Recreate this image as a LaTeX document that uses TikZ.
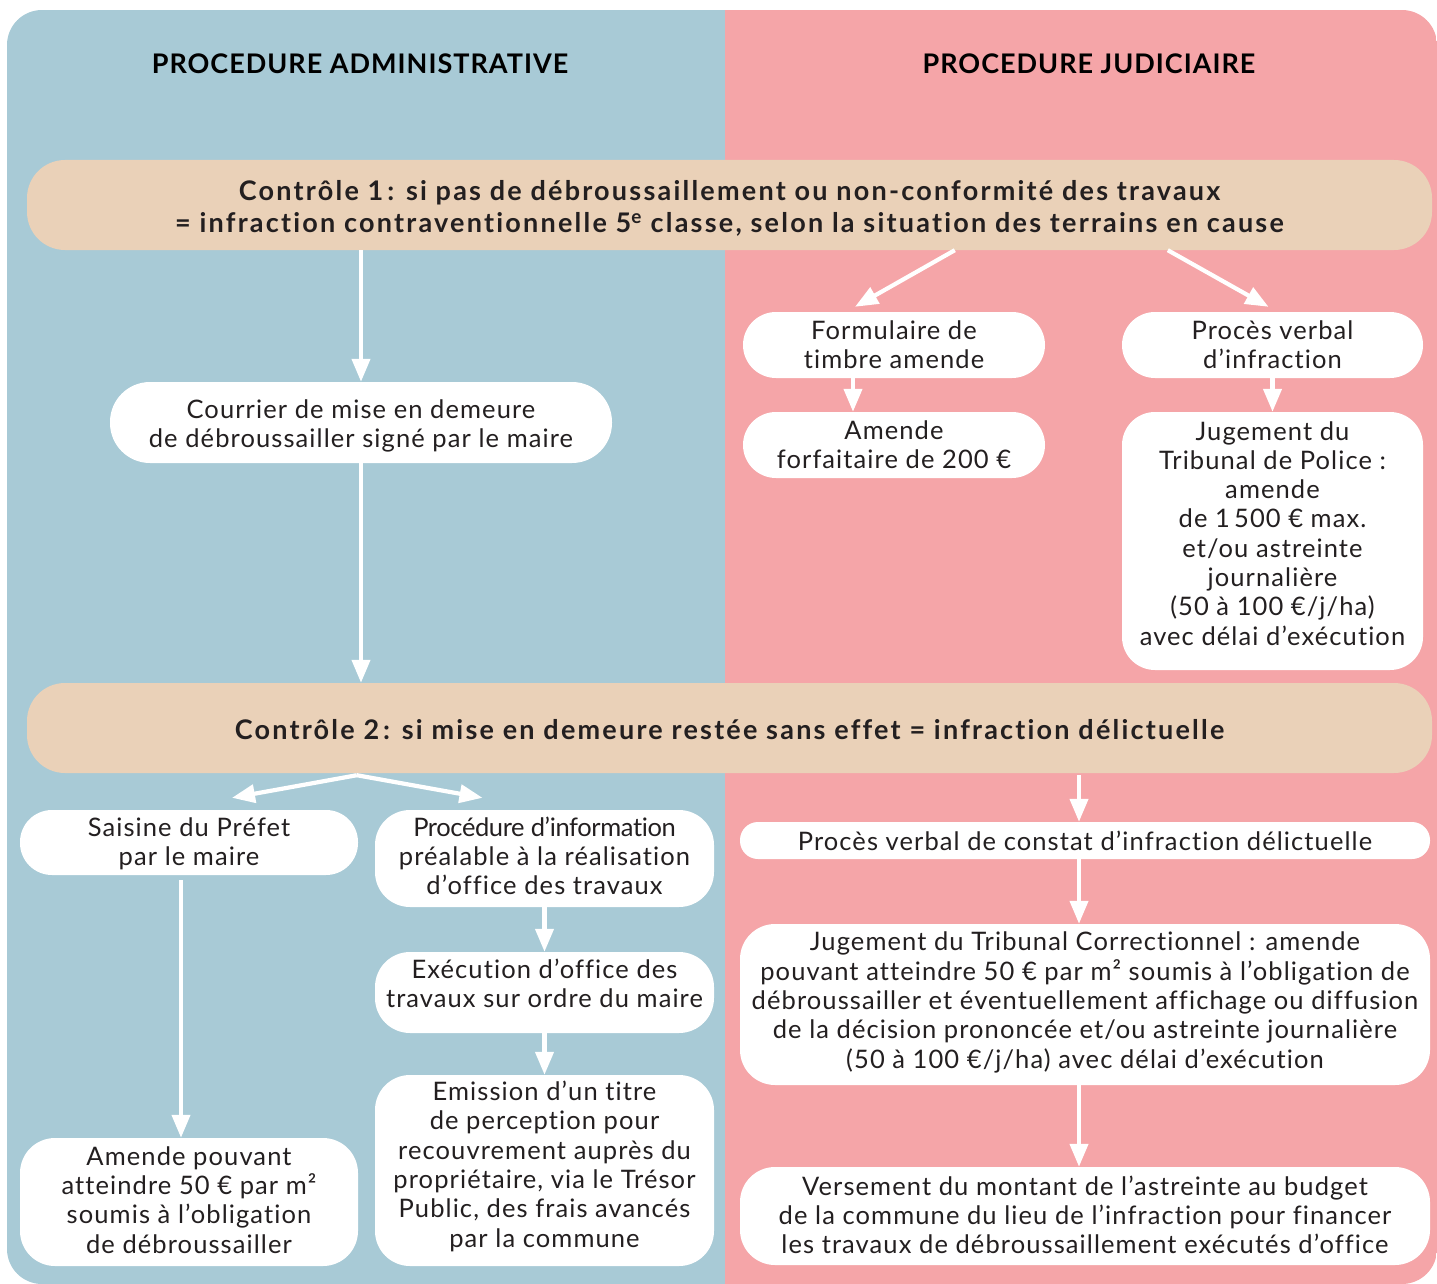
\documentclass[tikz,border=0pt]{standalone}
\usepackage{fontspec}
\setmainfont{Lato}[Ligatures={TeX,NoCommon}]
\usetikzlibrary{arrows.meta,calc}
\definecolor{bluebg}{HTML}{A8CAD6}
\definecolor{pinkbg}{HTML}{F5A5A8}
\definecolor{beige}{HTML}{EAD1B8}
\definecolor{txt}{HTML}{231F20}
\newcommand\mlines[1]{\begin{tabular}[t]{@{}c@{}}#1\end{tabular}}
\begin{document}
\begin{tikzpicture}[x=1pt,y=-1pt,
  wbox/.style={fill=white, rounded corners=#1, inner sep=0pt, text=txt,
    font=\fontsize{25.5}{29.3}\selectfont\addfontfeatures{LetterSpace=4.3}},
  ctrl/.style={fill=beige, rounded corners=38, inner sep=0pt, text=txt,
    font=\bfseries\fontsize{27}{32}\selectfont\addfontfeatures{LetterSpace=8.2}, minimum width=1405, minimum height=90},
  ttl/.style={text=black, font=\bfseries\fontsize{27}{32}\selectfont\addfontfeatures{LetterSpace=3.7}, inner sep=0pt},
  dn/.style={text height=0pt, text depth=#1},
  up/.style={text height=#1, text depth=0pt},
  arr/.style={draw=white, line width=4.2pt, -{Triangle[width=18pt,length=23pt]}}]
\useasboundingbox (0,0) rectangle (1437,1284);
\begin{scope}
  \clip[rounded corners=35] (7,10) rectangle (1437,1284);
  \fill[bluebg] (7,10) rectangle (725,1284);
  \fill[pinkbg] (725,10) rectangle (1437,1284);
\end{scope}

\node[ttl] (tA) at (360,64) {PROCEDURE ADMINISTRATIVE};
\node[ttl] (tJ) at (1089,64) {PROCEDURE JUDICIAIRE};

\node[ctrl, dn=9pt] (c1) at (729.5,205) {\mlines{Contrôle 1\hspace{4pt}: si pas de débroussaillement ou non-conformité des travaux\\= infraction contraventionnelle 5\textsuperscript{e} classe, selon la situation des terrains en cause}};
\node[ctrl, up=23pt] (c2) at (729.5,728) {\mlines{Contrôle 2\hspace{4pt}: si mise en demeure restée sans effet = infraction délictuelle}};

\node[wbox=40, minimum width=502, minimum height=81, dn=9pt] (courrier) at (361,422.5) {\mlines{Courrier de mise en demeure\\de débroussailler signé par le maire}};
\node[wbox=33, minimum width=302, minimum height=66, dn=12pt] (form) at (894,345) {\mlines{Formulaire de\\timbre amende}};
\node[wbox=33, minimum width=302, minimum height=66, dn=11pt] (amende1) at (894,445) {\mlines{Amende\\forfaitaire de 200 €}};
\node[wbox=33, minimum width=301, minimum height=66, dn=12pt] (pv) at (1272.5,345) {\mlines{Procès verbal\\d’infraction}};
\node[wbox=33, minimum width=301, minimum height=258, dn=202pt] (jug1) at (1272.5,541) {\mlines{Jugement du\\Tribunal de Police :\\amende\\de 1\,500 € max.\\et/ou astreinte\\journalière\\(50 à 100 €/j/ha)\\avec délai d’exécution}};

\node[wbox=32, minimum width=338, minimum height=65, dn=13pt] (saisine) at (189,842.5) {\mlines{Saisine du Préfet\\par le maire}};
\node[wbox=35, minimum width=339, minimum height=97, dn=45pt] (procinfo) at (544.5,858.5) {\mlines{{\addfontfeatures{LetterSpace=-1.5}Procédure d’information}\\préalable à la réalisation\\d’office des travaux}};
\node[wbox=35, minimum width=338, minimum height=128, dn=74pt] (amende2) at (189,1202) {\mlines{Amende pouvant\\atteindre 50 € par m²\\soumis à l’obligation\\de débroussailler}};
\node[wbox=35, minimum width=339, minimum height=81, dn=29pt] (exec) at (544.5,992.5) {\mlines{Exécution d’office des\\travaux sur ordre du maire}};
\node[wbox=35, minimum width=339, minimum height=191, dn=140pt] (emission) at (544.5,1170.5) {\mlines{Emission d’un titre\\de perception pour\\recouvrement auprès du\\propriétaire, via le Trésor\\Public, des frais avancés\\par la commune}};

\node[wbox=18, minimum width=690, minimum height=37, up=19pt] (pvc) at (1085,840.5) {\mlines{Procès verbal de constat d’infraction délictuelle}};
\node[wbox=35, minimum width=690, minimum height=161, dn=108pt] (jug2) at (1085,1004.5) {\mlines{Jugement du Tribunal Correctionnel : amende\\pouvant atteindre 50 € par m² soumis à l’obligation de\\débroussailler et éventuellement affichage ou diffusion\\de la décision prononcée et/ou astreinte journalière\\(50 à 100 €/j/ha) avec délai d’exécution}};
\node[wbox=35, minimum width=690, minimum height=98, dn=42pt] (vers) at (1085,1216) {\mlines{Versement du montant de l’astreinte au budget\\de la commune du lieu de l’infraction pour financer\\les travaux de débroussaillement exécutés d’office}};

% arrows
\draw[arr] (c1.south -| courrier.north) -- (courrier.north);
\draw[arr] (courrier.south) -- (c2.north -| courrier.south);
\draw[arr] ($(c1.south west)+(928,0)$) -- ($(form.north)+(-39,-5)$);
\draw[arr] ($(c1.south west)+(1141,0)$) -- ($(pv.north)+(-4,-5)$);
\draw[arr] ($(form.south)+(-41,0)$) -- ($(amende1.north)+(-41,0)$);
\draw[arr] (pv.south) -- (jug1.north);
\coordinate (split) at ($(c2.south west)+(330,2)$);
\draw[arr] (split) -- ($(saisine.north)+(43,-12)$);
\draw[arr] (split) -- ($(procinfo.north)+(-62,-12)$);
\draw[arr] ($(saisine.south)+(-8,5)$) -- ($(amende2.north)+(-8,0)$);
\draw[arr] (procinfo.south) -- (exec.north);
\draw[arr] (exec.south) -- (emission.north);
\draw[arr] ($(c2.south -| pvc.north)+(-6,2)$) -- ($(pvc.north)+(-6,0)$);
\draw[arr] ($(pvc.south)+(-6,0)$) -- ($(jug2.north)+(-6,0)$);
\draw[arr] ($(jug2.south)+(-6,0)$) -- ($(vers.north)+(-6,0)$);
\end{tikzpicture}
\end{document}
